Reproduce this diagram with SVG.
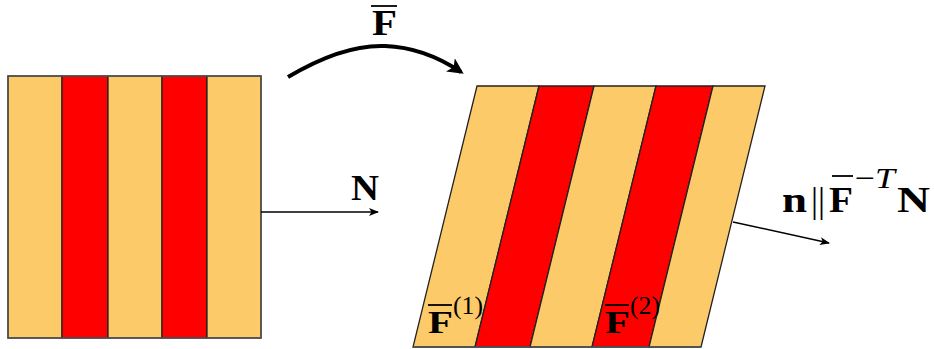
<svg xmlns="http://www.w3.org/2000/svg" width="934" height="349" viewBox="0 0 934 349">
<defs>
<style>
.o{fill:#fdca69;stroke:#222;stroke-width:1.3}
.r{fill:#ff0000;stroke:#222;stroke-width:1.3}
.frame{fill:none;stroke:#555;stroke-width:1.5}
.t{font-family:"Liberation Serif","DejaVu Serif",serif;font-weight:bold;fill:#000}
.tn{font-family:"Liberation Serif","DejaVu Serif",serif;fill:#000}
.bar{stroke:#000;stroke-width:1.8}
</style>
<marker id="ah" viewBox="0 0 10 10" refX="9" refY="5" markerWidth="10" markerHeight="10" markerUnits="userSpaceOnUse" orient="auto">
<path d="M0,1 L10,5 L0,9 L2.5,5 Z" fill="#000"/>
</marker>
<marker id="ahb" viewBox="0 0 10 10" refX="8" refY="5" markerWidth="4" markerHeight="4" orient="auto">
<path d="M0,0 L10,5 L0,10 L2.5,5 Z" fill="#000"/>
</marker>
</defs>
<g id="reference-body">
<rect class="o" x="8" y="76" width="54" height="262"/>
<rect class="r" x="62" y="76" width="46" height="262"/>
<rect class="o" x="108" y="76" width="54" height="262"/>
<rect class="r" x="162" y="76" width="45" height="262"/>
<rect class="o" x="207" y="76" width="54" height="262"/>
<rect class="frame" x="8" y="76" width="253" height="262"/>
</g>
<g id="deformed-body">
<polygon class="o" points="477,86 539,86 475,347 413,347"/>
<polygon class="r" points="539,86 594,86 530,347 475,347"/>
<polygon class="o" points="594,86 656,86 592,347 530,347"/>
<polygon class="r" points="656,86 713,86 649,347 592,347"/>
<polygon class="o" points="713,86 765,86 701,347 649,347"/>
<line x1="413" y1="347" x2="701" y2="347" stroke="#555" stroke-width="1.5"/>
</g>
<g id="connectors">
<path d="M288,77 C330,52 360,45 385,46 C415,47 440,58 461,72" fill="none" stroke="#000" stroke-width="4" marker-end="url(#ahb)"/>
<line x1="261" y1="212" x2="378" y2="212" stroke="#000" stroke-width="1.5" marker-end="url(#ah)"/>
<line x1="733" y1="222" x2="829" y2="243" stroke="#000" stroke-width="1.5" marker-end="url(#ah)"/>
</g>
<g id="labels">
<text class="t" x="372" y="35" font-size="36" textLength="25" lengthAdjust="spacingAndGlyphs">F</text>
<line class="bar" x1="371" y1="6" x2="397" y2="6"/>
<text class="t" x="351" y="200" font-size="35" textLength="28" lengthAdjust="spacingAndGlyphs">N</text>
<text class="t" x="782" y="212" font-size="36" textLength="25" lengthAdjust="spacingAndGlyphs">n</text>
<text class="tn" x="811" y="212" font-size="36" textLength="14" lengthAdjust="spacingAndGlyphs">||</text>
<text class="t" x="829" y="212" font-size="36" textLength="24" lengthAdjust="spacingAndGlyphs">F</text>
<line class="bar" x1="832" y1="176" x2="853" y2="176"/>
<text class="tn" x="855" y="188" font-size="30" textLength="40" lengthAdjust="spacingAndGlyphs">−<tspan font-style="italic">T</tspan></text>
<text class="t" x="897" y="212" font-size="36" textLength="33" lengthAdjust="spacingAndGlyphs">N</text>
<text class="t" x="428" y="333" font-size="32" textLength="25" lengthAdjust="spacingAndGlyphs">F</text>
<line class="bar" x1="428" y1="305" x2="452" y2="305"/>
<text class="tn" x="453" y="314" font-size="26" textLength="30" lengthAdjust="spacingAndGlyphs">(1)</text>
<text class="t" x="605" y="333" font-size="32" textLength="25" lengthAdjust="spacingAndGlyphs">F</text>
<line class="bar" x1="605" y1="305" x2="629" y2="305"/>
<text class="tn" x="630" y="314" font-size="26" textLength="30" lengthAdjust="spacingAndGlyphs">(2)</text>
</g>
</svg>
